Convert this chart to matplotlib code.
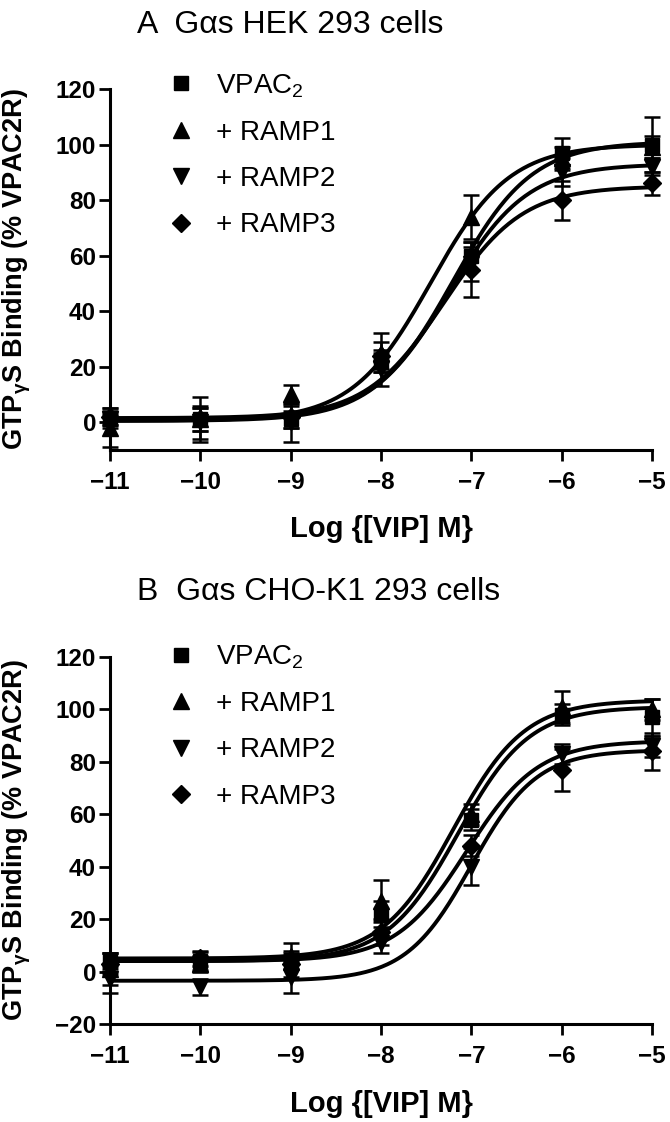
import matplotlib.pyplot as plt
import numpy as np

plt.rcParams['font.family'] = ['Liberation Sans', 'DejaVu Sans']
plt.rcParams['mathtext.default'] = 'regular'

log_vip = [-11, -10, -9, -8, -7, -6, -5]
series = ['VPAC$_2$', '+ RAMP1', '+ RAMP2', '+ RAMP3']
markers = ['s', '^', 'v', 'D']
marker_sizes = [10.5, 11, 11, 9]

# Panel A: HEK 293 cells (mean, SEM)
a_vpac2 = [1, 1, 1, 22, 60, 97, 100]
a_vpac2_err = [2, 8, 3, 4, 5, 5.5, 10]
a_ramp1 = [-2, 1, 10, 25, 74, 95, 99]
a_ramp1_err = [7, 4, 3.5, 7, 8, 4, 4]
a_ramp2 = [1, 0, 0, 19, 57, 90, 92]
a_ramp2_err = [3, 6, 7, 6, 6, 5, 3]
a_ramp3 = [2, 1, 2, 24, 55, 80, 86]
a_ramp3_err = [3, 4, 4, 5, 10, 7, 4]
# fitted sigmoid parameters
a_bottom = [1, 0.5, 0.5, 1.5]
a_top = [101, 100, 93, 85]
a_logec50 = [-7.2, -7.45, -7.25, -7.3]
a_hill = [1.0, 1.0, 1.0, 1.0]

# Panel B: CHO-K1 cells (mean, SEM)
b_vpac2 = [4, 4, 4, 22, 58, 98, 97]
b_vpac2_err = [3, 3.5, 3, 5, 4, 4, 7]
b_ramp1 = [1, 3, 6, 27, 60, 101, 100]
b_ramp1_err = [6, 3, 5, 8, 4, 6, 4]
b_ramp2 = [-3, -6, -2, 11, 40, 83, 86]
b_ramp2_err = [5, 3, 6, 4, 7, 4, 4]
b_ramp3 = [3, 5, 3, 15, 48, 77, 84]
b_ramp3_err = [4, 3, 5, 5, 4, 8, 7]
b_bottom = [4, 5, -3.5, 4]
b_top = [101, 103.5, 84.5, 88]
b_logec50 = [-7.15, -7.2, -7.0, -7.05]
b_hill = [1.1, 1.1, 1.2, 1.1]


def draw_panel(ax, means, errs, bottoms, tops, ec50s, hills, ylo, yticks, leg_y):
    xs = np.linspace(-11, -5, 300)
    for i in range(4):
        ax.errorbar(log_vip, means[i], yerr=errs[i], fmt='none', ecolor='black',
                    elinewidth=1.8, capsize=6, capthick=1.8, clip_on=False)
        ax.plot(log_vip, means[i], ls='none', marker=markers[i], ms=marker_sizes[i],
                color='black', label=series[i], clip_on=False)
        curve = bottoms[i] + (tops[i] - bottoms[i]) / (1 + 10 ** ((ec50s[i] - xs) * hills[i]))
        ax.plot(xs, curve, color='black', lw=2.8, clip_on=False)
    ax.set_xlim(-11, -5)
    ax.set_ylim(ylo, 120)
    ax.set_xticks(log_vip)
    ax.set_yticks(yticks)
    for s in ['top', 'right']:
        ax.spines[s].set_visible(False)
    for s in ['left', 'bottom']:
        ax.spines[s].set_linewidth(2.2)
    ax.tick_params(width=2.0, length=8, labelsize=17.5)
    ax.tick_params(axis='x', pad=7)
    ax.tick_params(axis='y', pad=2)
    for lab in ax.get_xticklabels() + ax.get_yticklabels():
        lab.set_fontweight('bold')
    ax.set_xlabel('Log {[VIP] M}', fontsize=21, fontweight='bold')
    ax.set_ylabel('GTP$_{\\gamma}$S Binding (% VPAC2R)', fontsize=19.5, fontweight='bold')
    ax.xaxis.set_label_coords(0.5, -0.18)
    ax.yaxis.set_label_coords(-0.142, 0.5)
    ax.legend(loc='upper left', bbox_to_anchor=(0.105, leg_y), frameon=False,
              fontsize=20, handlelength=1.0, handletextpad=0.75, labelspacing=0.73,
              borderpad=0, borderaxespad=0)


fig = plt.figure(figsize=(6.7, 11.22), dpi=100)
ax_a = fig.add_axes([110 / 670, 1 - 450 / 1122, 542 / 670, 361 / 1122])
ax_b = fig.add_axes([110 / 670, 1 - 1024 / 1122, 542 / 670, 367 / 1122])

draw_panel(ax_a, [a_vpac2, a_ramp1, a_ramp2, a_ramp3],
           [a_vpac2_err, a_ramp1_err, a_ramp2_err, a_ramp3_err],
           a_bottom, a_top, a_logec50, a_hill, -10, range(0, 121, 20), 1.047)
draw_panel(ax_b, [b_vpac2, b_ramp1, b_ramp2, b_ramp3],
           [b_vpac2_err, b_ramp1_err, b_ramp2_err, b_ramp3_err],
           b_bottom, b_top, b_logec50, b_hill, -20, range(-20, 121, 20), 1.037)

fig.text(137 / 670, 1 - 25 / 1122, 'A  G\u03b1s HEK 293 cells', fontsize=23, va='center', ha='left')
fig.text(137 / 670, 1 - 592 / 1122, 'B  G\u03b1s CHO-K1 293 cells', fontsize=23, va='center', ha='left')

fig.savefig('out.png', dpi=100)
